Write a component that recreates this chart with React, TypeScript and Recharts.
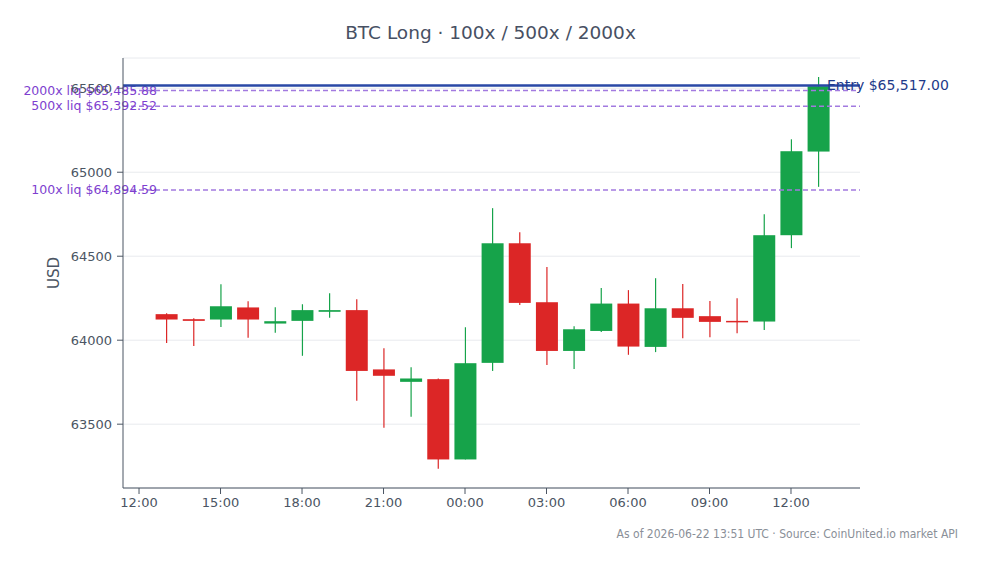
import { ComposedChart, Bar, XAxis, YAxis, CartesianGrid, ReferenceLine } from 'recharts';

// hours after 12:00 on day one
const hours = [1, 2, 3, 4, 5, 6, 7, 8, 9, 10, 11, 12, 13, 14, 15, 16, 17, 18, 19, 20, 21, 22, 23, 24, 25];
const opens = [64155, 64125, 64123, 64195, 64099, 64115, 64169, 64179, 63826, 63752, 63768, 63290, 63865, 64577, 64226, 63936, 64055, 64218, 63960, 64190, 64143, 64115, 64111, 64625, 65123];
const highs = [64161, 64131, 64333, 64232, 64196, 64214, 64280, 64244, 63952, 63839, 63772, 64077, 64786, 64643, 64435, 64083, 64310, 64298, 64369, 64335, 64234, 64250, 64750, 65196, 65567];
const lows = [63984, 63966, 64079, 64014, 64044, 63907, 64133, 63639, 63478, 63544, 63234, 63290, 63817, 64210, 63853, 63829, 64049, 63913, 63929, 64012, 64018, 64042, 64061, 64548, 64913];
const closes = [64123, 64115, 64202, 64123, 64113, 64179, 64179, 63817, 63788, 63772, 63290, 63863, 64577, 64222, 63936, 64065, 64218, 63962, 64190, 64133, 64109, 64111, 64625, 65125, 65512];

const xTicks = [0, 3, 6, 9, 12, 15, 18, 21, 24];
const xTickLabels = ['12:00', '15:00', '18:00', '21:00', '00:00', '03:00', '06:00', '09:00', '12:00'];
const yTicks = [63500, 64000, 64500, 65000, 65500];

const entryPrice = 65517;
const liqLevels = [
  { name: '2000x', price: 65485.88 },
  { name: '500x', price: 65392.52 },
  { name: '100x', price: 64894.59 },
];

const data = hours.map((t, i) => ({
  t,
  open: opens[i],
  high: highs[i],
  low: lows[i],
  close: closes[i],
}));

const GREEN = '#16a34a';
const RED = '#dc2626';
const AXIS = '#4b5563';
const FONT = '"DejaVu Sans", sans-serif';

const fmt = (v: number) =>
  '$' + v.toLocaleString('en-US', { minimumFractionDigits: 2, maximumFractionDigits: 2 });

const Candle = (props: any) => {
  const { x, y, width, height, payload } = props;
  if (x === undefined || y === undefined || !payload) return null;
  const { open, high, low, close } = payload;
  const h = Math.abs(height);
  const top = height < 0 ? y + height : y;
  const k = h / (high - low);
  const color = close >= open ? GREEN : RED;
  const bodyTop = top + (high - Math.max(open, close)) * k;
  const bodyH = Math.max((Math.max(open, close) - Math.min(open, close)) * k, 1.5);
  const cx = x + width / 2;
  return (
    <g>
      <line x1={cx} x2={cx} y1={top} y2={top + h} stroke={color} strokeWidth={1.2} />
      <rect x={x} y={bodyTop} width={width} height={bodyH} fill={color} />
    </g>
  );
};

const LiqLabel = (props: any) => {
  const { viewBox, value } = props;
  if (!viewBox) return null;
  return (
    <text x={viewBox.x + 34} y={viewBox.y} dy={4} textAnchor="end" fill="#7e3fcf" fontSize={12.5} fontFamily={FONT}>
      {value}
    </text>
  );
};

const EntryLabel = (props: any) => {
  const { viewBox, value } = props;
  if (!viewBox) return null;
  return (
    <text x={viewBox.x + viewBox.width - 33} y={viewBox.y} dy={5} textAnchor="start" fill="#1e3a8a" fontSize={14} fontFamily={FONT}>
      {value}
    </text>
  );
};

const UsdLabel = (props: any) => {
  const { viewBox } = props;
  if (!viewBox) return null;
  const x = viewBox.x + 54;
  const y = viewBox.y + viewBox.height / 2;
  return (
    <text x={x} y={y} dy={5} textAnchor="middle" transform={`rotate(-90 ${x} ${y})`} fill={AXIS} fontSize={15} fontFamily={FONT}>
      USD
    </text>
  );
};

export default function App() {
  return (
    <div style={{ position: 'absolute', left: 0, top: 0, width: 981, height: 564, background: '#fff', fontFamily: FONT }}>
      <div style={{ position: 'absolute', left: 0, width: 981, top: 22, textAlign: 'center', fontSize: 18.5, color: '#475063' }}>
        BTC Long · 100x / 500x / 2000x
      </div>
      <ComposedChart width={981} height={564} data={data} margin={{ top: 58, right: 121, bottom: 46, left: 0 }}>
        <CartesianGrid vertical={false} stroke="#e8eaee" />
        <XAxis
          type="number"
          dataKey="t"
          domain={[-0.59, 26.54]}
          ticks={xTicks}
          tickFormatter={(v: number) => xTickLabels[xTicks.indexOf(v)] ?? ''}
          allowDataOverflow
          height={30}
          tickSize={6}
          tickMargin={4}
          stroke={AXIS}
          tick={{ fontSize: 13, fill: AXIS, fontFamily: FONT }}
        />
        <YAxis
          domain={[63120, 65680]}
          ticks={yTicks}
          allowDataOverflow
          width={123}
          tickSize={6}
          tickMargin={5}
          stroke={AXIS}
          tick={{ fontSize: 13, fill: AXIS, fontFamily: FONT }}
          label={<UsdLabel />}
        />
        {liqLevels.map((l) => (
          <ReferenceLine
            key={l.name}
            y={l.price}
            stroke="#a27ae0"
            strokeWidth={1.5}
            strokeDasharray="5 3"
            label={<LiqLabel value={`${l.name} liq ${fmt(l.price)}`} />}
          />
        ))}
        <ReferenceLine
          y={entryPrice}
          stroke="#2a48a6"
          strokeWidth={2.5}
          label={<EntryLabel value={`Entry ${fmt(entryPrice)}`} />}
        />
        <Bar
          dataKey={(d: any) => [d.low, d.high]}
          barSize={22}
          shape={<Candle />}
          isAnimationActive={false}
        />
      </ComposedChart>
      <div
        style={{
          position: 'absolute',
          right: 23,
          top: 527,
          fontSize: 12,
          color: '#8a8f98',
          fontFamily: '"DejaVu Sans Condensed", "DejaVu Sans", sans-serif',
          fontStretch: 'condensed',
        }}
      >
        As of 2026-06-22 13:51 UTC · Source: CoinUnited.io market API
      </div>
    </div>
  );
}
